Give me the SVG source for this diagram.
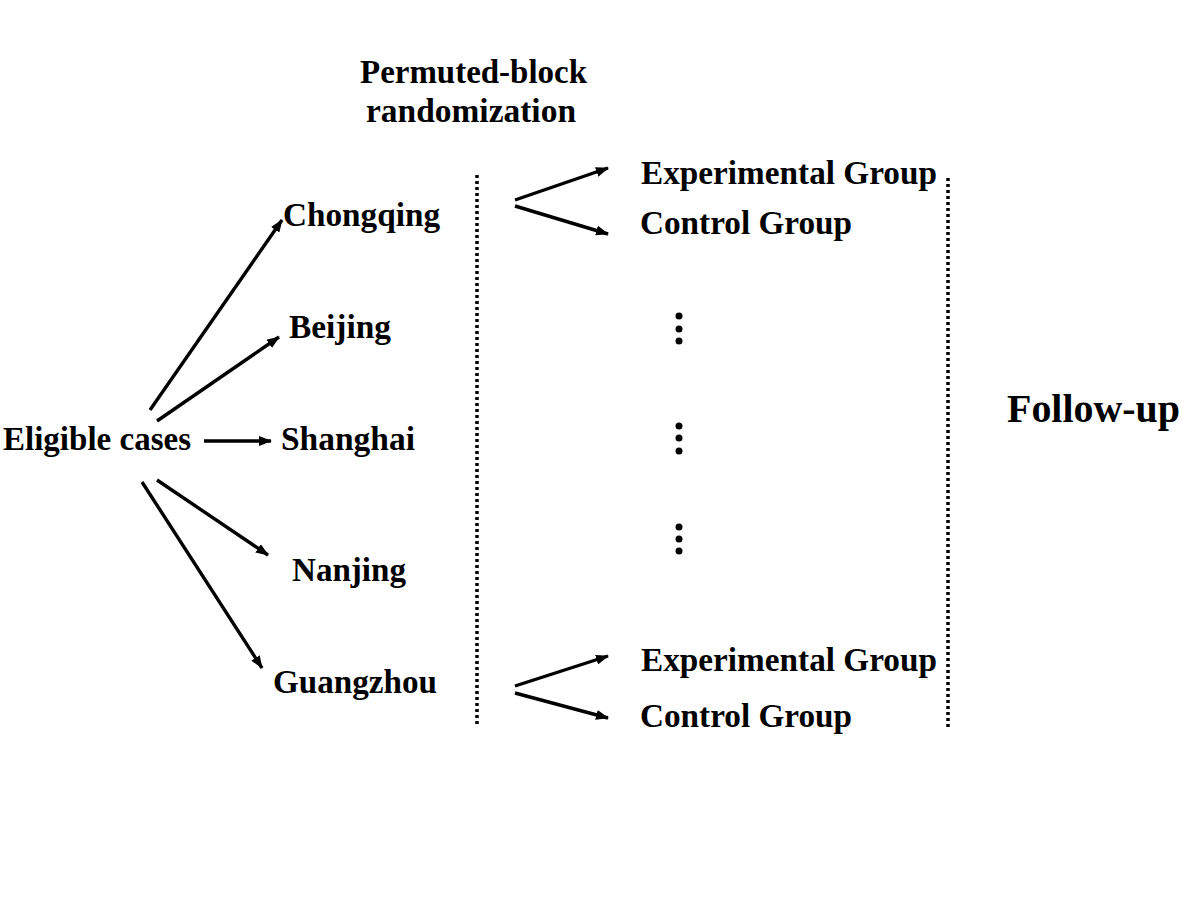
<svg xmlns="http://www.w3.org/2000/svg" width="1200" height="900" viewBox="0 0 1200 900">
<style>
text{font-family:"Liberation Serif","Times New Roman",serif;font-weight:bold;font-size:33px;fill:#000}
.big{font-size:41px}
.arr{stroke:#000;stroke-width:3.4;fill:none;marker-end:url(#ah)}
.dot{stroke:#000;stroke-width:3.5;stroke-dasharray:3 3;fill:none}
</style>
<defs>
<marker id="ah" markerWidth="14" markerHeight="10" refX="12" refY="5" orient="auto" markerUnits="userSpaceOnUse">
<path d="M0,0 L13,5 L0,10 Z" fill="#000"/>
</marker>
</defs>
<rect width="1200" height="900" fill="#fff"/>
<g id="header"><text x="360" y="83" textLength="227" lengthAdjust="spacingAndGlyphs">Permuted-block</text><text x="366" y="122" textLength="210" lengthAdjust="spacingAndGlyphs">randomization</text></g>
<g id="eligible"><text x="3" y="450" textLength="188" lengthAdjust="spacingAndGlyphs">Eligible cases</text></g>
<g id="chongqing"><text x="283" y="226" textLength="157" lengthAdjust="spacingAndGlyphs">Chongqing</text></g>
<g id="beijing"><text x="289" y="338" textLength="102" lengthAdjust="spacingAndGlyphs">Beijing</text></g>
<g id="shanghai"><text x="281" y="450" textLength="134" lengthAdjust="spacingAndGlyphs">Shanghai</text></g>
<g id="nanjing"><text x="292" y="581" textLength="114" lengthAdjust="spacingAndGlyphs">Nanjing</text></g>
<g id="guangzhou"><text x="273" y="693" textLength="164" lengthAdjust="spacingAndGlyphs">Guangzhou</text></g>
<g id="exp1"><text x="641" y="184" textLength="296" lengthAdjust="spacingAndGlyphs">Experimental Group</text></g>
<g id="ctrl1"><text x="640" y="234" textLength="212" lengthAdjust="spacingAndGlyphs">Control Group</text></g>
<g id="exp2"><text x="641" y="671" textLength="296" lengthAdjust="spacingAndGlyphs">Experimental Group</text></g>
<g id="ctrl2"><text x="640" y="727" textLength="212" lengthAdjust="spacingAndGlyphs">Control Group</text></g>
<g id="followup"><text class="big" x="1007" y="422" textLength="173" lengthAdjust="spacingAndGlyphs">Follow-up</text></g>
<g id="separators">
<line class="dot" x1="477" y1="175" x2="477" y2="727"/>
<line class="dot" x1="948" y1="178" x2="948" y2="727"/>
</g>
<g id="ellipsis" fill="#000">
<circle cx="679" cy="316" r="3.5"/><circle cx="679" cy="329" r="3.5"/><circle cx="679" cy="341" r="3.5"/>
<circle cx="679" cy="426" r="3.5"/><circle cx="679" cy="438" r="3.5"/><circle cx="679" cy="451" r="3.5"/>
<circle cx="679" cy="527" r="3.5"/><circle cx="679" cy="539" r="3.5"/><circle cx="679" cy="551" r="3.5"/>
</g>
<g id="connectors">
<line class="arr" x1="150" y1="410" x2="282" y2="220"/>
<line class="arr" x1="157" y1="421" x2="279" y2="337"/>
<line class="arr" x1="204" y1="441" x2="271" y2="441"/>
<line class="arr" x1="157" y1="480" x2="268" y2="555"/>
<line class="arr" x1="142" y1="482" x2="262" y2="668"/>
<line class="arr" x1="515" y1="200" x2="608" y2="168"/>
<line class="arr" x1="515" y1="206" x2="608" y2="234"/>
<line class="arr" x1="515" y1="686" x2="608" y2="656"/>
<line class="arr" x1="515" y1="693" x2="608" y2="718"/>
</g>
</svg>
